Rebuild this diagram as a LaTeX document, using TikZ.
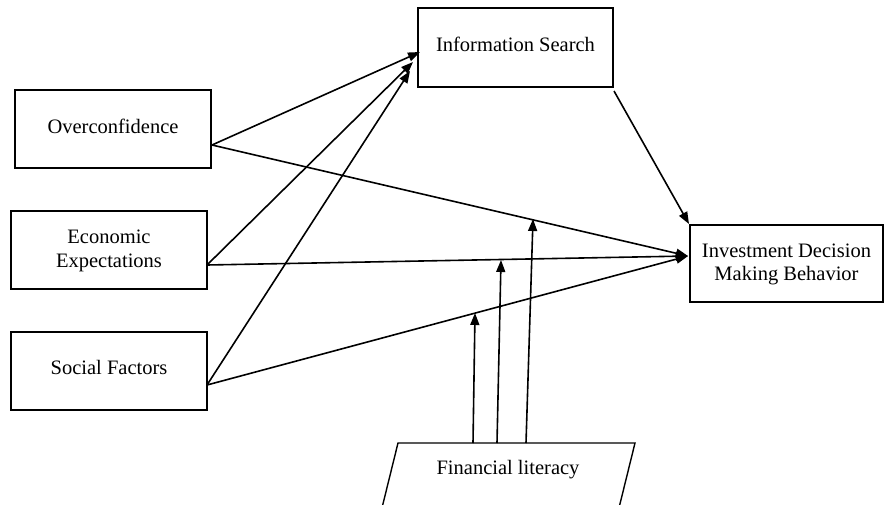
\documentclass[tikz,border=0pt]{standalone}
\usepackage{fontspec}
\setmainfont{Liberation Serif}
\usetikzlibrary{arrows.meta,calc}
\begin{document}
\begin{tikzpicture}[x=1pt,y=-1pt,
  box/.style={draw, line width=1.4pt, rectangle, inner sep=0pt, align=center, font=\fontsize{20.5}{25}\selectfont},
  conn/.style={line width=1.6pt, -{Triangle[length=12pt,width=9pt]}},
  lbl/.style={font=\fontsize{20.5}{25}\selectfont, inner sep=0pt}]
\useasboundingbox (0,0) rectangle (884,504);
\fill[white] (0,0) rectangle (884,504);
% boxes
\node[box, minimum width=195pt, minimum height=79pt] (info) at (515.5,47.5) {\raisebox{6pt}{Information Search}};
\node[box, minimum width=196pt, minimum height=78pt] (over) at (113,129) {\raisebox{6pt}{Overconfidence}};
\node[box, minimum width=196pt, minimum height=78pt] (econ) at (109,250) {\raisebox{5.5pt}{\begin{tabular}{@{}c@{}}Economic\\[-1pt]Expectations\end{tabular}}};
\node[box, minimum width=196pt, minimum height=78pt] (soc) at (109,371) {\raisebox{8pt}{Social Factors}};
\node[box, minimum width=193pt, minimum height=77pt] (inv) at (786.5,263.5) {\raisebox{5pt}{\begin{tabular}{@{}c@{}}Investment Decision\\[-2pt]Making Behavior\end{tabular}}};
% financial literacy parallelogram
\begin{scope}
\clip (0,0) rectangle (884,504);
\draw[line width=1.4pt] (398,443) -- (635,443) -- (616,520) -- (379,520) -- cycle;
\end{scope}
\node[lbl] (fin) at (508,470) {Financial literacy};
% connector end points
\coordinate (oS) at (212,145);
\coordinate (eS) at (207,265);
\coordinate (sS) at (207,385);
\coordinate (iA) at (420,52);
\coordinate (iB) at (413,62);
\coordinate (iC) at (410,71);
\coordinate (vT) at (688,256);
\coordinate (infoOut) at (614,91);
\coordinate (invIn) at (689,224);
\coordinate (f1) at (473,443);
\coordinate (f2) at (497,443);
\coordinate (f3) at (526,443);
\coordinate (m1) at (475,313);
\coordinate (m2) at (501,260);
\coordinate (m3) at (533,219);
% connectors
\draw[conn] (oS) -- (iA);
\draw[conn] (eS) -- (iB);
\draw[conn] (sS) -- (iC);
\draw[conn] (oS) -- (vT);
\draw[conn] (eS) -- (vT);
\draw[conn] (sS) -- (vT);
\draw[conn] (infoOut) -- (invIn);
\draw[conn] (f1) -- (m1);
\draw[conn] (f2) -- (m2);
\draw[conn] (f3) -- (m3);
\end{tikzpicture}
\end{document}
